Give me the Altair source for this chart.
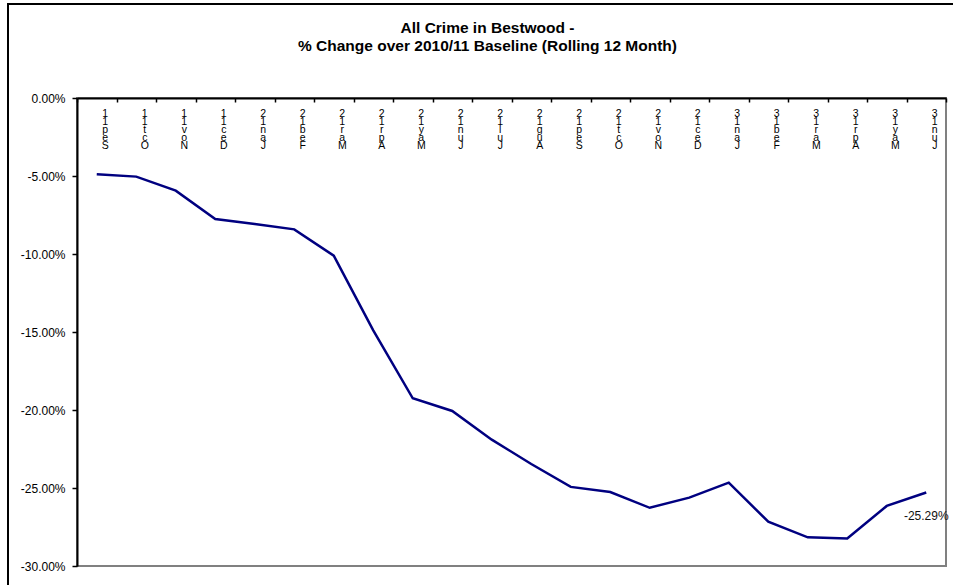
import altair as alt
import pandas as pd

months = ["Sep-11", "Oct-11", "Nov-11", "Dec-11", "Jan-12", "Feb-12", "Mar-12", "Apr-12",
          "May-12", "Jun-12", "Jul-12", "Aug-12", "Sep-12", "Oct-12", "Nov-12", "Dec-12",
          "Jan-13", "Feb-13", "Mar-13", "Apr-13", "May-13", "Jun-13"]
pct_change = [-4.89, -5.04, -5.94, -7.76, -8.08, -8.42, -10.11, -14.90, -19.25, -20.06,
              -21.90, -23.46, -24.93, -25.26, -26.27, -25.62, -24.66, -27.16, -28.16,
              -28.23, -26.15, -25.29]

df = pd.DataFrame({"month": months, "value": pct_change})
df["label"] = ["" for _ in months]
df.loc[df.index[-1], "label"] = f"{pct_change[-1]:.2f}%"

W, H = 869, 468
FONT = "Liberation Sans"

x_enc = alt.X(
    "month:N", sort=months, bandPosition=0.5,
    scale=alt.Scale(type="band", paddingInner=0, paddingOuter=0),
    axis=alt.Axis(
        title=None, orient="bottom", offset=-H, tickBand="extent",
        domainColor="black", domainWidth=2, tickColor="black", tickSize=4, tickWidth=1.5,
        labelAngle=0, labelBaseline="top", labelAlign="center",
        labelExpr="reverse(split(replace(datum.label, '-', ''), ''))",
        labelFont=FONT, labelFontSize=10.5, labelLineHeight=8, labelPadding=6,
        labelOffset=8, labelColor="black", grid=False,
    ),
)

y_enc = alt.Y(
    "value:Q",
    scale=alt.Scale(domain=[-30, 0], nice=False, zero=False),
    axis=alt.Axis(
        title=None, values=[0, -5, -10, -15, -20, -25, -30], grid=False,
        domainColor="black", domainWidth=2, tickColor="black", tickSize=5, tickWidth=1.5,
        labelExpr="replace(format(datum.value / 100, '.2%'), '\u2212', '-')",
        labelFont=FONT, labelFontSize=12, labelPadding=7, labelColor="black",
    ),
)

line = alt.Chart(df).mark_line(color="#000080", strokeWidth=2.5).encode(x=x_enc, y=y_enc)

text = alt.Chart(df).mark_text(
    font=FONT, fontSize=12, color="#111111", dy=23, align="center"
).encode(
    x=alt.X("month:N", sort=months, bandPosition=0.5),
    y="value:Q",
    text="label:N",
)

frame = alt.Chart(df).mark_rect(
    fill=None, stroke="black", strokeWidth=2
).encode(
    x=alt.value(-69), x2=alt.value(W + 40),
    y=alt.value(-94), y2=alt.value(H + 40),
)

chart = alt.layer(frame, line, text).properties(
    width=W,
    height=H,
    title=alt.TitleParams(
        text=["All Crime in Bestwood -", "% Change over 2010/11 Baseline (Rolling 12 Month)"],
        font=FONT, fontSize=15.5, fontWeight="bold", color="black",
        anchor="middle", frame="group", dx=-24, offset=-51, lineHeight=18,
    ),
    padding={"left": 77, "top": 98, "right": 7, "bottom": 19},
    autosize=alt.AutoSizeParams(type="none"),
).configure_view(
    stroke="#808080", strokeWidth=2
)

chart.save("out.html", embed_options={"renderer": "svg", "actions": False})
